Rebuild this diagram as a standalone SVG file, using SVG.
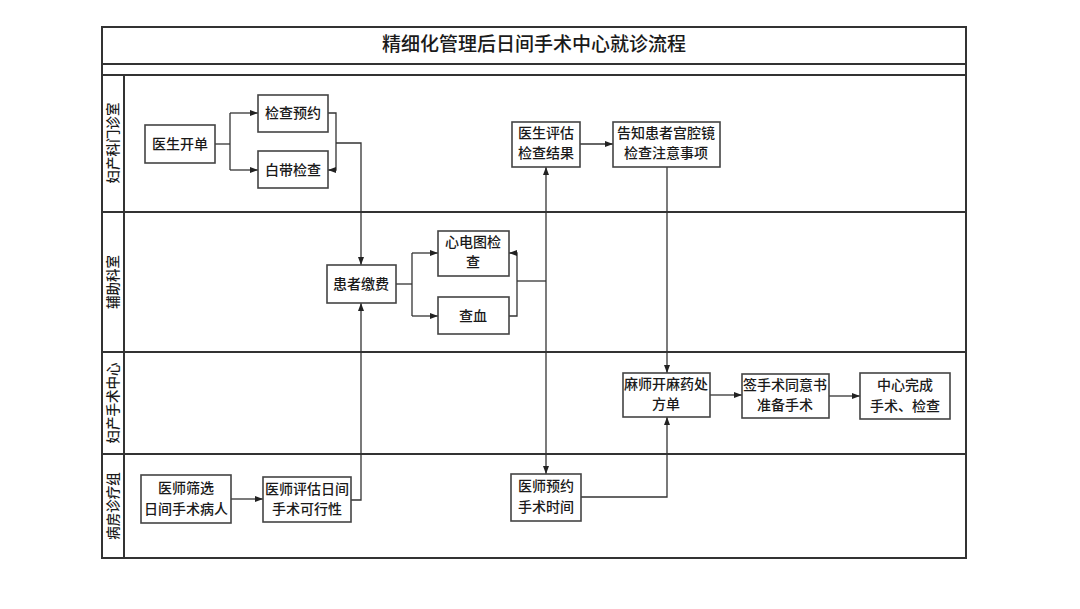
<svg xmlns="http://www.w3.org/2000/svg" width="1080" height="609" viewBox="0 0 1080 609">
<style>
text{font-family:"Noto Sans CJK SC","Noto Sans",sans-serif;fill:#1a1a1a;font-weight:500;}
.frame{fill:none;stroke:#333;stroke-width:2;}
.node rect{fill:#fff;stroke:#444;stroke-width:1.6;}
.node text{font-size:14px;text-anchor:middle;}
.lane{font-size:13.5px;text-anchor:middle;}
.conn path{fill:none;stroke:#333;stroke-width:1.3;}
</style>
<defs>
<marker id="arr" viewBox="0 0 8 6" refX="8" refY="3" markerWidth="8" markerHeight="6" markerUnits="userSpaceOnUse" orient="auto">
<path d="M0,0 L8,3 L0,6 Z" fill="#222"/>
</marker>
</defs>
<rect width="1080" height="609" fill="#fff"/>
<g id="frame">
<rect class="frame" x="102" y="27" width="864" height="531"/>
<line class="frame" x1="102" y1="64" x2="966" y2="64"/>
<line class="frame" x1="102" y1="75" x2="966" y2="75"/>
<line class="frame" x1="102" y1="212" x2="966" y2="212"/>
<line class="frame" x1="102" y1="352" x2="966" y2="352"/>
<line class="frame" x1="102" y1="454" x2="966" y2="454"/>
<line class="frame" x1="124" y1="75" x2="124" y2="558"/>
<text x="534" y="51" font-size="19" text-anchor="middle">精细化管理后日间手术中心就诊流程</text>
<text class="lane" transform="translate(118,143) rotate(-90)">妇产科门诊室</text>
<text class="lane" transform="translate(118,282) rotate(-90)">辅助科室</text>
<text class="lane" transform="translate(118,403) rotate(-90)">妇产手术中心</text>
<text class="lane" transform="translate(118,506) rotate(-90)">病房诊疗组</text>
</g>
<g id="connectors" class="conn">
<path d="M215,144 H230"/>
<path d="M230,113 V170"/>
<path d="M230,113 H258" marker-end="url(#arr)"/>
<path d="M230,170 H258" marker-end="url(#arr)"/>
<path d="M328,113 H336 V170 H328" marker-end="url(#arr)"/>
<path d="M336,143 H361 V265" marker-end="url(#arr)"/>
<path d="M351,500 H361 V303" marker-end="url(#arr)"/>
<path d="M231,499 H263" marker-end="url(#arr)"/>
<path d="M396,284 H412"/>
<path d="M412,253 V316"/>
<path d="M412,253 H438" marker-end="url(#arr)"/>
<path d="M412,316 H438" marker-end="url(#arr)"/>
<path d="M509,316 H517 V253 H509" marker-end="url(#arr)"/>
<path d="M517,281 H546"/>
<path d="M546,281 V167" marker-end="url(#arr)"/>
<path d="M546,281 V474" marker-end="url(#arr)"/>
<path d="M580,144 H613" marker-end="url(#arr)"/>
<path d="M667,167 V373" marker-end="url(#arr)"/>
<path d="M581,497 H667 V417" marker-end="url(#arr)"/>
<path d="M710,395 H742" marker-end="url(#arr)"/>
<path d="M829,396 H860" marker-end="url(#arr)"/>
</g>
<g id="n1" class="node"><rect x="145" y="125" width="70" height="38"/><text x="180" y="149">医生开单</text></g>
<g id="n2" class="node"><rect x="258" y="95" width="70" height="37"/><text x="293" y="118">检查预约</text></g>
<g id="n3" class="node"><rect x="258" y="151" width="70" height="37"/><text x="293" y="175">白带检查</text></g>
<g id="n4" class="node"><rect x="512" y="122" width="68" height="45"/><text x="546" y="138">医生评估</text><text x="546" y="158">检查结果</text></g>
<g id="n5" class="node"><rect x="613" y="122" width="107" height="45"/><text x="666" y="138">告知患者宫腔镜</text><text x="666" y="158">检查注意事项</text></g>
<g id="n6" class="node"><rect x="327" y="265" width="69" height="38"/><text x="361" y="289">患者缴费</text></g>
<g id="n7" class="node"><rect x="438" y="231" width="71" height="45"/><text x="473" y="247">心电图检</text><text x="473" y="267">查</text></g>
<g id="n8" class="node"><rect x="438" y="297" width="71" height="37"/><text x="473" y="321">查血</text></g>
<g id="n9" class="node"><rect x="623" y="373" width="87" height="44"/><text x="666" y="389">麻师开麻药处</text><text x="666" y="409">方单</text></g>
<g id="n10" class="node"><rect x="742" y="374" width="87" height="44"/><text x="785" y="390">签手术同意书</text><text x="785" y="410">准备手术</text></g>
<g id="n11" class="node"><rect x="860" y="373" width="90" height="46"/><text x="905" y="390">中心完成</text><text x="905" y="411">手术、检查</text></g>
<g id="n12" class="node"><rect x="141" y="475" width="90" height="48"/><text x="186" y="493">医师筛选</text><text x="186" y="514">日间手术病人</text></g>
<g id="n13" class="node"><rect x="263" y="477" width="88" height="45"/><text x="307" y="494">医师评估日间</text><text x="307" y="514">手术可行性</text></g>
<g id="n14" class="node"><rect x="511" y="474" width="70" height="47"/><text x="546" y="491">医师预约</text><text x="546" y="512">手术时间</text></g>
</svg>
